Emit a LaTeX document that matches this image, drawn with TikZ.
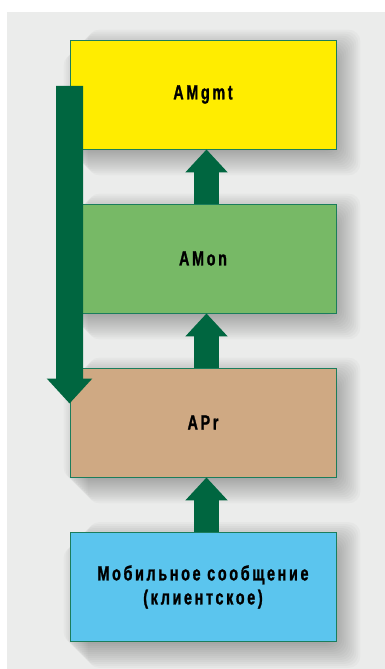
\documentclass[tikz,border=0pt]{standalone}
\usepackage{fontspec}
\setmainfont{Liberation Sans}
\newfontfamily\lblfont{Liberation Sans}[FakeStretch=0.7, LetterSpace=13, FakeBold=1.2]
\usetikzlibrary{arrows.meta,calc,backgrounds}

\definecolor{pagebg}{HTML}{EBECEB}
\definecolor{arrowgreen}{HTML}{006640}
\definecolor{boxedge}{HTML}{1B7D5C}
\definecolor{mgmtyellow}{HTML}{FFED00}
\definecolor{mongreen}{HTML}{77B966}
\definecolor{aprtan}{HTML}{CFA983}
\definecolor{mobblue}{HTML}{5BC5EE}

\tikzset{
  layer/.style={draw=boxedge, line width=0.9pt, minimum width=266pt,
    minimum height=109pt, inner sep=0pt, align=center,
    font=\lblfont\bfseries\fontsize{20.5}{24}\selectfont},
  softshade/.style={fill=black, opacity=0.024, rounded corners=12pt},
  uparrow/.style={draw=arrowgreen, line width=25pt,
    -{Triangle[width=41pt,length=23pt]}},
  downarrow/.style={draw=arrowgreen, line width=27pt,
    -{Triangle[width=44pt,length=25pt]}}
}

\begin{document}
\begin{tikzpicture}[x=1pt,y=1pt]
  \useasboundingbox (0,0) rectangle (385,669);

  % protocol stack layers
  \node[layer, fill=mgmtyellow] (amgmt) at (203,574.5) {AMgmt};
  \node[layer, fill=mongreen]   (amon)  at (203,410.5) {AMon};
  \node[layer, fill=aprtan]     (apr)   at (203,246.5) {APr};
  \node[layer, fill=mobblue]    (mob)   at (203,82)
    {Мобильное сообщение\\(клиентское)};

  % page and soft drop shadows behind the layers
  \begin{scope}[on background layer]
    \fill[white] (0,0) rectangle (385,669);
    \fill[pagebg] (7,0) rectangle (385,657);
    \foreach \n in {amgmt,amon,apr,mob}
      \foreach \r [evaluate=\r as \lx using 6-\r,
                   evaluate=\r as \ly using -8-\r,
                   evaluate=\r as \hx using 6+\r,
                   evaluate=\r as \hy using -8+\r] in {18,16,...,-6}
        \path[softshade]
          ([shift={(\lx,\ly)}]\n.south west) rectangle
          ([shift={(\hx,\hy)}]\n.north east);
  \end{scope}

  % upward flow between layers
  \draw[uparrow] ([xshift=3.5pt]mob.north)  -- ([xshift=3.5pt]apr.south);
  \draw[uparrow] ([xshift=3.5pt]apr.north)  -- ([xshift=3.5pt]amon.south);
  \draw[uparrow] ([xshift=3.5pt]amon.north) -- ([xshift=3.5pt]amgmt.south);

  % management feedback down to APr
  \coordinate (fbstart) at (69.5,583);
  \draw[downarrow] (fbstart) -- ([yshift=-36pt]apr.north west);
\end{tikzpicture}
\end{document}
